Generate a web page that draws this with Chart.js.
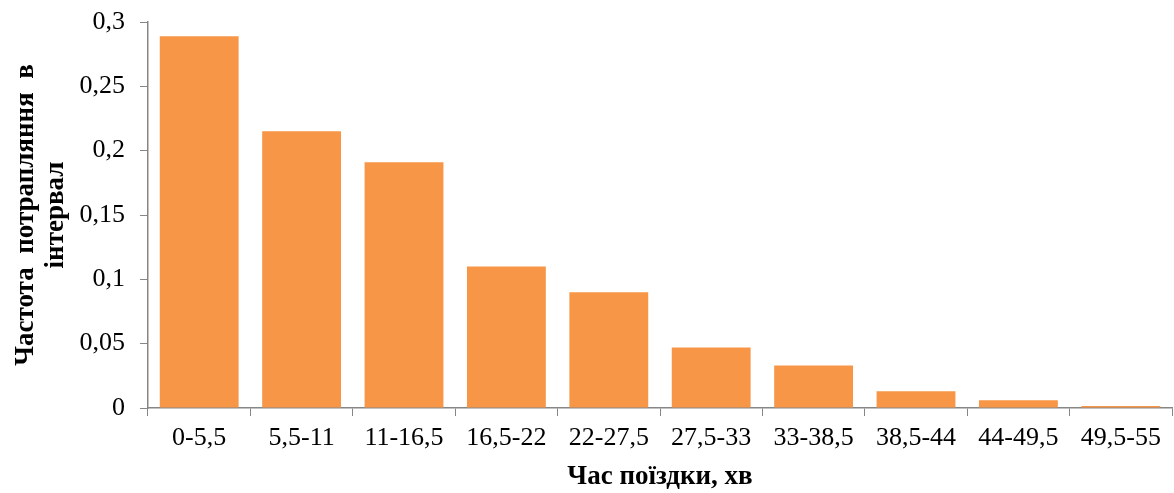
<!DOCTYPE html>
<html>
<head>
<meta charset="utf-8">
<script src="https://cdn.jsdelivr.net/npm/chart.js@4"></script>
<style>
  html, body { margin: 0; padding: 0; background: #fff; }
  #wrap { width: 1174px; height: 493px; position: relative; }
</style>
</head>
<body>
<div id="wrap"><canvas id="c" width="1174" height="493"></canvas></div>
<script>
const categories = ['0-5,5', '5,5-11', '11-16,5', '16,5-22', '22-27,5', '27,5-33', '33-38,5', '38,5-44', '44-49,5', '49,5-55'];
const frequencies = [0.289, 0.215, 0.191, 0.110, 0.090, 0.047, 0.033, 0.013, 0.006, 0.0016];
const yTitleLines = ['Частота  потрапляння  в', 'інтервал'];
const xTitle = 'Час поїздки, хв';

const axisColor = '#868686';
const serif = "'Liberation Serif', 'Times New Roman', serif";

new Chart(document.getElementById('c'), {
  type: 'bar',
  data: {
    labels: categories,
    datasets: [{
      data: frequencies,
      backgroundColor: '#F79646',
      borderWidth: 0,
      barPercentage: 0.77,
      categoryPercentage: 1.0
    }]
  },
  options: {
    responsive: false,
    animation: false,
    devicePixelRatio: 1,
    layout: { padding: { top: 22, right: 2, left: 0, bottom: 0 } },
    plugins: { legend: { display: false }, tooltip: { enabled: false } },
    scales: {
      x: {
        afterFit: (s) => { s.height = 85; s.paddingLeft = 0; s.paddingRight = 0; },
        grid: { drawOnChartArea: false, drawTicks: true, tickLength: 8, color: axisColor, offset: true },
        border: { color: axisColor, width: 1.5 },
        ticks: { color: '#000', font: { family: serif, size: 26 }, padding: 7, maxRotation: 0, autoSkip: false },
        title: { display: true, text: xTitle, color: '#000', font: { family: serif, size: 27, weight: 'bold', lineHeight: 1.2 }, padding: { top: 0, bottom: 0 } }
      },
      y: {
        min: 0, max: 0.3,
        afterFit: (s) => { s.width = 148; s.paddingTop = 0; s.paddingBottom = 0; },
        grid: { drawOnChartArea: false, drawTicks: true, tickLength: 8, color: axisColor },
        border: { color: axisColor, width: 1.5 },
        ticks: {
          stepSize: 0.05,
          color: '#000',
          font: { family: serif, size: 26 },
          padding: 15,
          callback: (v) => Number(Number(v).toFixed(2)).toString().replace('.', ',')
        },
        title: { display: true, text: yTitleLines, color: '#000', font: { family: serif, size: 27, weight: 'bold', lineHeight: 1.1 }, padding: { top: 11, bottom: 0 } }
      }
    }
  }
});
</script>
</body>
</html>
